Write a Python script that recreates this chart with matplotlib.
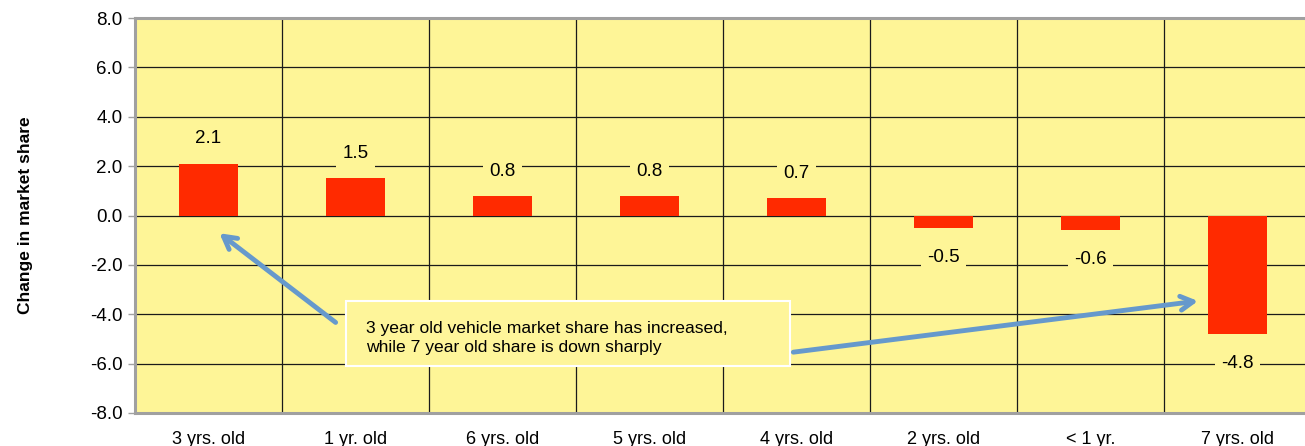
import matplotlib.pyplot as plt
from matplotlib.patches import FancyBboxPatch

categories = ["3 yrs. old", "1 yr. old", "6 yrs. old", "5 yrs. old",
              "4 yrs. old", "2 yrs. old", "< 1 yr.", "7 yrs. old"]
values = [2.1, 1.5, 0.8, 0.8, 0.7, -0.5, -0.6, -4.8]
yticks = [-8, -6, -4, -2, 0, 2, 4, 6, 8]

FONT = ["Liberation Sans Narrow", "Liberation Sans", "DejaVu Sans"]
plt.rcParams["font.family"] = FONT

colors = {
    "bg": "#FEF597",
    "bar": "#FF2A00",
    "grid": "#1A1A1A",
    "spine": "#A0A0A0",
    "arrow": "#6699CC",
}

fig = plt.figure(figsize=(13.05, 4.46), dpi=100)
ax = fig.add_axes([0.1034, 0.074, 0.9012, 0.8856])
ax.set_facecolor(colors["bg"])

x = range(len(categories))
ax.bar(x, values, width=0.4, color=colors["bar"], zorder=3)

ax.set_xlim(-0.5, len(categories) - 0.5)
ax.set_ylim(-8, 8)
ax.set_yticks(yticks)
ax.set_yticklabels([f"{v:.1f}" for v in yticks], fontsize=13.5)
ax.set_xticks(list(x))
ax.set_xticklabels(categories, fontsize=13)
ax.tick_params(axis="x", length=0, pad=13)
ax.tick_params(axis="y", length=5, width=1, color=colors["spine"], pad=4)

# grid: horizontal at ticks, vertical at category boundaries
for v in yticks:
    ax.axhline(v, color=colors["grid"], lw=0.9, zorder=1)
for i in range(1, len(categories)):
    ax.axvline(i - 0.5, color=colors["grid"], lw=0.9, zorder=1)

for s in ["left", "bottom", "top", "right"]:
    ax.spines[s].set_color(colors["spine"])
    ax.spines[s].set_linewidth(2.2)
ax.spines["right"].set_visible(False)

ax.set_ylabel("Change in market share", fontsize=12.5, fontweight="bold",
              labelpad=41)

for i, v in enumerate(values):
    off = 1.0 if v >= 0 else -1.2
    ax.text(i, v + off, f"{v:.1f}", ha="center", va="center", fontsize=13.5,
            zorder=4,
            bbox=dict(boxstyle="square,pad=0.35", fc=colors["bg"], ec="none"))

# callout box
ax.add_patch(FancyBboxPatch((0.935, -6.1), 3.02, 2.62,
                            boxstyle="square,pad=0", fc="#FEF59A",
                            ec="white", lw=1.5, zorder=5))
ax.text(1.07, -4.95, "3 year old vehicle market share has increased,\n"
        "while 7 year old share is down sharply",
        ha="left", va="center", fontsize=12.6, linespacing=1.36, zorder=6)

arrow = dict(arrowstyle="->,head_length=0.9,head_width=0.5",
             color=colors["arrow"], lw=3.5)
ax.annotate("", xy=(0.06, -0.65), xytext=(0.88, -4.4),
            arrowprops=arrow, zorder=6)
ax.annotate("", xy=(6.75, -3.45), xytext=(3.96, -5.55),
            arrowprops=arrow, zorder=6)

fig.savefig("out.png", dpi=100)
